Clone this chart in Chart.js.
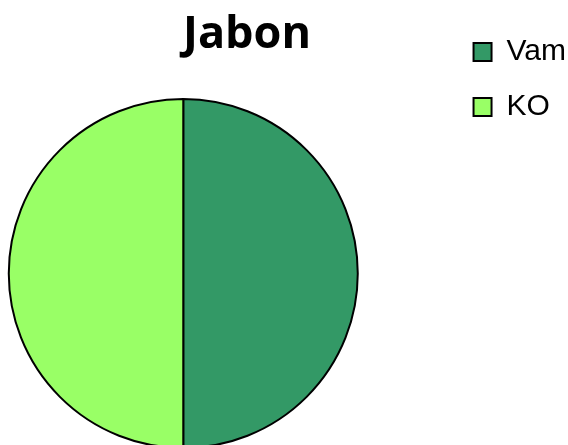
<!DOCTYPE html>
<html>
<head>
<meta charset="utf-8">
<title>Jabon</title>
<script src="https://cdn.jsdelivr.net/npm/chart.js@4.4.1/dist/chart.umd.min.js"></script>
<style>
    html, body {
        margin: 0;
        padding: 0;
        background: #ffffff;
        overflow: hidden;
    }
    .chart-wrap {
        position: relative;
        width: 568px;
        height: 445px;
        overflow: hidden;
    }
    /* the canvas is wider than the page so the pie sits left and the legend column on the right */
    #pieChart {
        position: absolute;
        left: -82px;
        top: 0;
    }
</style>
</head>
<body>
<div class="chart-wrap">
    <canvas id="pieChart" width="658" height="449"></canvas>
</div>

<script>
// ---- data ----
const chartTitle = 'Jabon';
const sliceLabels = ['Vam', 'KO'];
const sliceValues = [50, 50];
const sliceColors = ['#339966', '#99FF66'];

function renderPie() {
    const ctx = document.getElementById('pieChart').getContext('2d');
    Chart.defaults.color = '#000000';

    new Chart(ctx, {
        type: 'pie',
        data: {
            labels: sliceLabels,
            datasets: [{
                data: sliceValues,
                backgroundColor: sliceColors,
                borderColor: '#000000',
                borderWidth: 2
            }]
        },
        options: {
            responsive: false,
            animation: false,
            layout: {
                padding: { top: 12, left: 0, right: 0, bottom: 0 }
            },
            plugins: {
                title: {
                    display: true,
                    text: chartTitle,
                    color: '#000000',
                    font: { family: "'Open Sans', sans-serif", size: 45, weight: 'bold', lineHeight: 0.8 },
                    padding: { top: 5, bottom: 45 }
                },
                legend: {
                    position: 'right',
                    align: 'start',
                    labels: {
                        boxWidth: 18,
                        boxHeight: 18,
                        padding: 25,
                        color: '#000000',
                        font: { family: "'Liberation Sans', Arial, sans-serif", size: 30 }
                    }
                },
                tooltip: { enabled: false }
            }
        }
    });
}

document.addEventListener('DOMContentLoaded', renderPie);
</script>
</body>
</html>
